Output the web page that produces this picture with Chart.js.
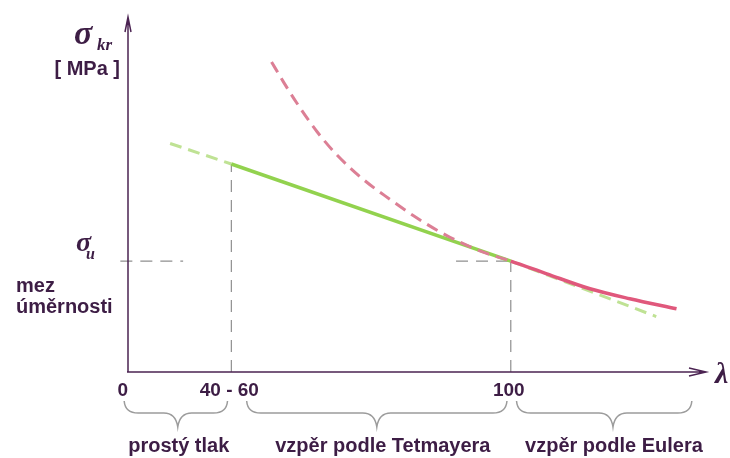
<!DOCTYPE html>
<html>
<head>
<meta charset="utf-8">
<script src="https://cdn.jsdelivr.net/npm/chart.js@4"></script>
<style>
  body { margin: 0; background: #fff; }
  canvas { display: block; }
</style>
</head>
<body>
<canvas id="buckling" width="730" height="458"></canvas>
<script>
// slenderness ratio ticks on the lambda axis
const lambdaTicks = [0, 27, 100];
const tickLabels = ["0", "40 - 60", "100"];

// proportional limit
const sigmaU = 200;

// Tetmayer straight line
const tetmayerLambda = [11, 27, 100, 138];
const tetmayerSigma = [412, 375, 200, 100];

// Euler hyperbola
const eulerLambda = [37.5, 40.6, 44.1, 49.3, 54.5, 61.5, 68.5, 75.4, 84.1, 92.8, 100, 109.4, 120.7, 131.1, 143.3];
const eulerSigma = [559, 523, 485, 434, 392, 347, 311, 278, 243, 216, 200, 177, 150, 132, 114];

// regions under the axis
const regionLabels = ["prostý tlak", "vzpěr podle Tetmayera", "vzpěr podle Eulera"];
const braceFrom = [-1, 31, 101.5];
const braceTo = [26, 99, 147.3];
const braceTip = [13, 65, 126.7];

const textColor = "#3d1d45";
const axisColor = "#4b2352";

function pts(xs, ys) {
    return xs.map((x, i) => ({ x: x, y: ys[i] }));
}

const guideStyle = {
    borderColor: "#8f8f8f",
    borderWidth: 1.2,
    borderDash: [12, 8],
    pointRadius: 0,
    order: 5
};

// axes, arrows, labels and braces
const decorPlugin = {
    id: "decor",
    afterDatasetsDraw(chart) {
        const ctx = chart.ctx;
        const xs = chart.scales.x;
        const ys = chart.scales.y;
        const area = chart.chartArea;
        const x0 = xs.getPixelForValue(0);
        const y0 = ys.getPixelForValue(0);

        ctx.save();
        ctx.strokeStyle = axisColor;
        ctx.lineWidth = 1.5;

        // y axis + arrow
        ctx.beginPath();
        ctx.moveTo(x0, y0);
        ctx.lineTo(x0, area.top);
        ctx.moveTo(x0 - 3, area.top + 15);
        ctx.lineTo(x0, area.top);
        ctx.lineTo(x0 + 3, area.top + 15);
        ctx.stroke();

        // x axis + arrow
        ctx.beginPath();
        ctx.moveTo(x0 - 1, y0);
        ctx.lineTo(area.right, y0);
        ctx.moveTo(area.right - 17, y0 - 4);
        ctx.lineTo(area.right, y0);
        ctx.lineTo(area.right - 17, y0 + 4);
        ctx.stroke();

        // tick labels
        ctx.fillStyle = textColor;
        ctx.font = "bold 19px 'Liberation Sans', Arial, sans-serif";
        ctx.textBaseline = "alphabetic";
        lambdaTicks.forEach((v, i) => {
            ctx.textAlign = i === 0 ? "right" : "center";
            const px = xs.getPixelForValue(v);
            ctx.fillText(tickLabels[i], i === 0 ? px : px - 2, y0 + 24);
        });

        // lambda
        ctx.textAlign = "left";
        ctx.font = "italic bold 30px 'Liberation Serif', 'DejaVu Serif', serif";
        ctx.fillText("λ", area.right + 9, y0 + 11);

        // sigma_kr [MPa]
        ctx.font = "italic bold 34px 'Liberation Serif', 'DejaVu Serif', serif";
        ctx.fillText("σ", 74, 44);
        ctx.font = "italic bold 17px 'Liberation Serif', 'DejaVu Serif', serif";
        ctx.fillText("kr", 97, 50);
        ctx.textAlign = "right";
        ctx.font = "bold 20px 'Liberation Sans', Arial, sans-serif";
        ctx.fillText("[ MPa ]", 120, 75);

        // sigma_u
        const yu = ys.getPixelForValue(sigmaU);
        ctx.textAlign = "left";
        ctx.font = "italic bold 28px 'Liberation Serif', 'DejaVu Serif', serif";
        ctx.fillText("σ", 76, yu - 10);
        ctx.font = "italic bold 16px 'Liberation Serif', 'DejaVu Serif', serif";
        ctx.fillText("u", 86, yu - 2);

        ctx.font = "bold 20px 'Liberation Sans', Arial, sans-serif";
        ctx.fillText("mez", 16, yu + 31);
        ctx.fillText("úměrnosti", 16, yu + 52);

        // braces and region labels
        const yTop = y0 + 29, yMid = y0 + 41, yTipPx = y0 + 55;
        ctx.strokeStyle = "#9c9c9c";
        ctx.lineWidth = 1.5;
        regionLabels.forEach((label, i) => {
            const a = xs.getPixelForValue(braceFrom[i]);
            const b = xs.getPixelForValue(braceTo[i]);
            const m = xs.getPixelForValue(braceTip[i]);
            ctx.beginPath();
            ctx.moveTo(a, yTop);
            ctx.quadraticCurveTo(a + 1, yMid, a + 14, yMid);
            ctx.lineTo(m - 14, yMid);
            ctx.quadraticCurveTo(m - 2, yMid, m, yTipPx);
            ctx.quadraticCurveTo(m + 2, yMid, m + 14, yMid);
            ctx.lineTo(b - 14, yMid);
            ctx.quadraticCurveTo(b - 1, yMid, b, yTop);
            ctx.stroke();

            ctx.textAlign = "center";
            ctx.fillStyle = textColor;
            ctx.fillText(label, m + (i === 1 ? 6 : 1), y0 + 80);
        });

        ctx.restore();
    }
};

new Chart(document.getElementById("buckling"), {
    type: "line",
    data: {
        datasets: [
            {
                // Euler curve: dashed before lambda = 100, solid after
                data: pts(eulerLambda, eulerSigma),
                borderWidth: 3.5,
                pointRadius: 0,
                cubicInterpolationMode: "monotone",
                borderColor: "#e0587c",
                segment: {
                    borderDash: c => c.p1.parsed.x <= 100 ? [12, 7] : undefined,
                    borderColor: c => c.p1.parsed.x <= 100 ? "#dc7f95" : undefined,
                    borderWidth: c => c.p1.parsed.x <= 100 ? 3 : undefined
                },
                order: 2
            },
            {
                // Tetmayer line: solid only between 40-60 and 100
                data: pts(tetmayerLambda, tetmayerSigma),
                borderWidth: 3.5,
                pointRadius: 0,
                borderColor: "#92d24e",
                segment: {
                    borderDash: c => (c.p0.parsed.x < 27 || c.p1.parsed.x > 100) ? [12, 7] : undefined,
                    borderColor: c => (c.p0.parsed.x < 27 || c.p1.parsed.x > 100) ? "#bfe294" : undefined,
                    borderWidth: c => (c.p0.parsed.x < 27 || c.p1.parsed.x > 100) ? 3 : undefined
                },
                order: 3
            },
            Object.assign({ data: [{ x: 27, y: 0 }, { x: 27, y: 375 }] }, guideStyle),
            Object.assign({ data: [{ x: 100, y: 0 }, { x: 100, y: sigmaU }] }, guideStyle),
            Object.assign({ data: [{ x: -2, y: sigmaU }, { x: 14.4, y: sigmaU }], clip: false }, guideStyle),
            Object.assign({ data: [{ x: 85.7, y: sigmaU }, { x: 100, y: sigmaU }] }, guideStyle)
        ]
    },
    options: {
        responsive: false,
        animation: false,
        events: [],
        layout: { padding: { left: 128, right: 24, top: 17, bottom: 86 } },
        plugins: { legend: { display: false }, tooltip: { enabled: false } },
        scales: {
            x: { type: "linear", min: 0, max: 151, display: false },
            y: { type: "linear", min: 0, max: 640, display: false }
        }
    },
    plugins: [decorPlugin]
});
</script>
</body>
</html>
